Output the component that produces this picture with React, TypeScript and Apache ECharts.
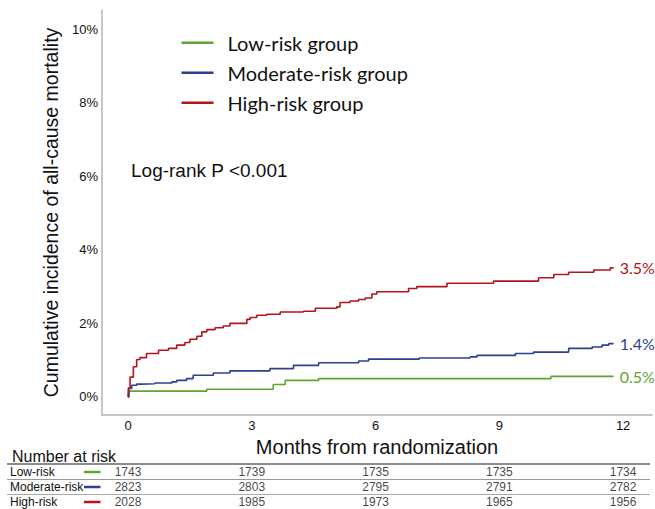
import React, { useEffect, useRef } from "react";
import * as echarts from "echarts";

const groupNames = ["Low-risk group", "Moderate-risk group", "High-risk group"];
const groupColors = ["#5fa532", "#2f3f92", "#b3141d"];
const endLabels = ["0.5%", "1.4%", "3.5%"];

const lowTimes = [0, 0.02, 1.91, 3.52, 3.81, 4.62, 10.25, 11.77];
const lowValues = [0, 0.16, 0.21, 0.34, 0.45, 0.5, 0.56, 0.56];

const modTimes = [0, 0.02, 0.09, 0.21, 0.33, 0.65, 1.06, 1.18, 1.42, 1.58, 2.07, 2.47, 3.44, 4.01, 4.62, 5.59, 5.83, 7.06, 8.29, 8.46, 9.39, 9.83, 10.68, 11.25, 11.49, 11.65, 11.77];
const modValues = [0, 0.23, 0.32, 0.35, 0.36, 0.38, 0.41, 0.45, 0.5, 0.59, 0.65, 0.71, 0.77, 0.86, 0.93, 0.98, 1.03, 1.06, 1.09, 1.13, 1.18, 1.22, 1.32, 1.36, 1.41, 1.45, 1.45];

const highTimes = [0, 0.01, 0.05, 0.13, 0.21, 0.29, 0.45, 0.74, 0.98, 1.18, 1.38, 1.5, 1.67, 1.79, 1.91, 2.11, 2.31, 2.47, 2.88, 2.96, 3.12, 3.36, 3.69, 4.25, 4.54, 5.06, 5.14, 5.38, 5.59, 5.75, 5.91, 6.03, 6.8, 7.0, 7.73, 8.86, 9.95, 10.32, 10.68, 11.29, 11.69, 11.77];
const highValues = [0, 0.24, 0.54, 0.82, 1.02, 1.07, 1.18, 1.27, 1.32, 1.41, 1.48, 1.57, 1.65, 1.77, 1.83, 1.88, 1.93, 2.0, 2.11, 2.16, 2.22, 2.25, 2.31, 2.33, 2.41, 2.45, 2.57, 2.61, 2.65, 2.69, 2.8, 2.86, 2.95, 3.0, 3.09, 3.15, 3.24, 3.33, 3.39, 3.45, 3.51, 3.51];

const xTicks = [0, 3, 6, 9, 12];
const yTicks = [0, 2, 4, 6, 8, 10];

const riskRows = ["Low-risk", "Moderate-risk", "High-risk"];
const riskTimes = [0, 3, 6, 9, 12];
const riskLow = [1743, 1739, 1735, 1735, 1734];
const riskMod = [2823, 2803, 2795, 2791, 2782];
const riskHigh = [2028, 1985, 1973, 1965, 1956];

const FONT = "'Liberation Sans', Arial, sans-serif";
const FONT2 = "Lato, 'Liberation Sans', sans-serif";

export default function App() {
  const ref = useRef<HTMLDivElement>(null);
  useEffect(() => {
    if (!ref.current) return;
    const chart = echarts.init(ref.current, undefined, { renderer: "svg" });
    const curves = [
      [lowTimes, lowValues],
      [modTimes, modValues],
      [highTimes, highValues],
    ];
    const riskData = [riskLow, riskMod, riskHigh];
    const lineSeries = curves.map(([t, v], i) => ({
      name: groupNames[i],
      type: "line",
      step: "end",
      showSymbol: false,
      symbol: "none",
      data: t.map((x, k) => [x, v[k]]),
      itemStyle: { color: groupColors[i] },
      lineStyle: { color: groupColors[i], width: 1.6 },
      endLabel: {
        show: true,
        formatter: endLabels[i],
        color: groupColors[i],
        fontFamily: FONT2,
        fontSize: 16,
        distance: 6,
      },
      z: 3 + i,
    }));
    const tableSeries = riskData.map((vals, r) => ({
      type: "scatter",
      xAxisIndex: 1,
      yAxisIndex: 1,
      symbolSize: 1,
      silent: true,
      itemStyle: { color: "rgba(0,0,0,0)" },
      data: riskTimes.map((t, k) => [t, riskRows[r], vals[k]]),
      label: {
        show: true,
        position: "inside",
        formatter: (p: any) => String(p.value[2]),
        color: "#111",
        fontFamily: FONT,
        fontSize: 12,
      },
    }));
    const rowYs = [472, 487, 502];
    const graphics: any[] = [
      {
        type: "text",
        left: 131,
        top: 161,
        style: { text: "Log-rank P <0.001", font: `19px ${FONT}`, fill: "#111" },
      },
      {
        type: "text",
        left: 12,
        top: 448,
        style: { text: "Number at risk", font: `16px ${FONT}`, fill: "#111" },
      },
      { type: "line", shape: { x1: 7, y1: 464, x2: 650, y2: 464 }, style: { stroke: "#666", lineWidth: 1.5 } },
      { type: "line", shape: { x1: 7, y1: 479.5, x2: 650, y2: 479.5 }, style: { stroke: "#999", lineWidth: 1.2 } },
      { type: "line", shape: { x1: 7, y1: 494.5, x2: 650, y2: 494.5 }, style: { stroke: "#aaa", lineWidth: 1.2 } },
    ];
    riskRows.forEach((name, r) => {
      graphics.push({
        type: "text",
        x: 10,
        y: rowYs[r],
        style: { text: name, font: `12px ${FONT}`, fill: "#111", verticalAlign: "middle", align: "left" },
      });
      graphics.push({
        type: "line",
        shape: { x1: 84, y1: rowYs[r], x2: 100.5, y2: rowYs[r] },
        style: { stroke: groupColors[r], lineWidth: 2.5 },
      });
    });

    chart.setOption({
      animation: false,
      backgroundColor: "#fff",
      grid: [
        { left: 102, right: 3, top: 10, bottom: 94 },
        { left: 102, right: 3, top: 464.5, height: 45 },
      ],
      legend: {
        orient: "vertical",
        left: 181.5,
        top: 32.7,
        padding: 0,
        itemWidth: 32,
        itemHeight: 2.5,
        itemGap: 10,
        icon: "rect",
        data: groupNames,
        selectedMode: false,
        textStyle: { fontFamily: FONT2, fontSize: 20, color: "#111", padding: [0, 0, 0, 9] },
      },
      xAxis: [
        {
          type: "value",
          min: -0.63,
          max: 12.7,
          splitLine: { show: false },
          axisTick: { show: false },
          axisLine: { onZero: false, lineStyle: { color: "#b5b5b5", width: 1.5 } },
          axisLabel: {
            customValues: xTicks,
            color: "#111",
            fontFamily: FONT,
            fontSize: 13,
            margin: 4,
          },
          name: "Months from randomization",
          nameLocation: "middle",
          nameGap: 18,
          nameTextStyle: { fontFamily: FONT, fontSize: 20, color: "#111" },
        },
        {
          type: "value",
          gridIndex: 1,
          min: -0.63,
          max: 12.7,
          show: false,
        },
      ],
      yAxis: [
        {
          type: "value",
          min: -0.49,
          max: 10.52,
          splitLine: { show: false },
          axisTick: { show: false },
          axisLine: { show: true, onZero: false, lineStyle: { color: "#b5b5b5", width: 1.5 } },
          axisLabel: {
            customValues: yTicks,
            formatter: "{value}%",
            color: "#111",
            fontFamily: FONT,
            fontSize: 13,
            margin: 4,
          },
          name: "Cumulative incidence of all-cause mortality",
          nameLocation: "middle",
          nameRotate: 90,
          nameGap: 36,
          nameTextStyle: { fontFamily: FONT, fontSize: 19.5, color: "#111" },
        },
        {
          type: "category",
          gridIndex: 1,
          data: riskRows,
          inverse: true,
          show: false,
        },
      ],
      graphic: graphics,
      series: [...lineSeries, ...tableSeries],
    });
    return () => chart.dispose();
  }, []);
  return (
    <div
      ref={ref}
      style={{ position: "fixed", left: 0, top: 0, width: 655, height: 509, background: "#fff" }}
    />
  );
}
